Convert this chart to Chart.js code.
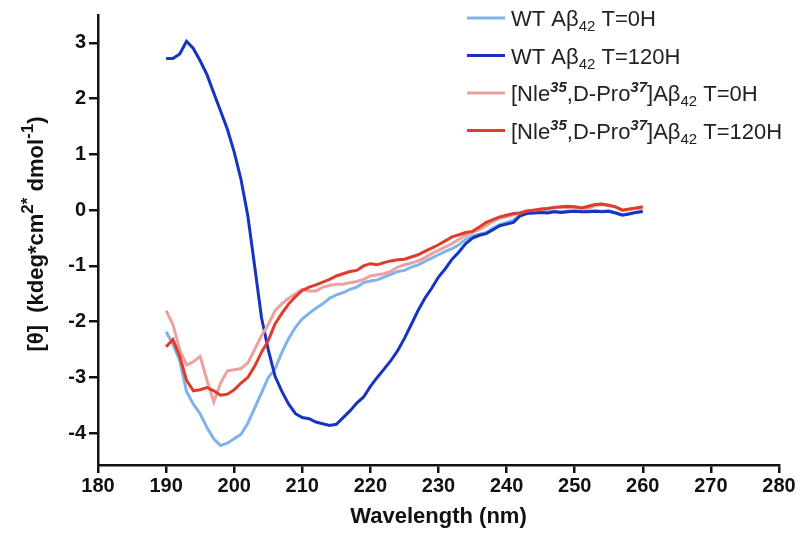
<!DOCTYPE html>
<html>
<head>
<meta charset="utf-8">
<script src="https://cdn.jsdelivr.net/npm/chart.js@4/dist/chart.umd.min.js"></script>
<style>
  html, body { margin: 0; padding: 0; background: #fff; }
  #wrap { width: 800px; height: 544px; position: relative; }
</style>
</head>
<body>
<div id="wrap"><canvas id="cd"></canvas></div>
<script>
// wavelength grid (nm)
const wavelength = [
  190, 191, 192, 193, 194, 195, 196, 197, 198, 199,
  200, 201, 202, 203, 204, 205, 206, 207, 208, 209,
  210, 211, 212, 213, 214, 215, 216, 217, 218, 219,
  220, 221, 222, 223, 224, 225, 226, 227, 228, 229,
  230, 231, 232, 233, 234, 235, 236, 237, 238, 239,
  240, 241, 242, 243, 244, 245, 246, 247, 248, 249,
  250, 251, 252, 253, 254, 255, 256, 257, 258, 259, 260
];

// WT Abeta42 T=0H
const wt0h = [
  -2.18, -2.40, -2.70, -3.25, -3.48, -3.65, -3.90, -4.10, -4.22, -4.18,
  -4.10, -4.02, -3.82, -3.55, -3.28, -3.00, -2.85, -2.55, -2.30, -2.10,
  -1.95, -1.85, -1.76, -1.68, -1.58, -1.52, -1.48, -1.42, -1.38, -1.30,
  -1.27, -1.25, -1.20, -1.15, -1.10, -1.08, -1.02, -0.98, -0.92, -0.86,
  -0.80, -0.74, -0.69, -0.62, -0.52, -0.46, -0.43, -0.40, -0.32, -0.26,
  -0.22, -0.18, -0.08, -0.04, -0.03, -0.02, -0.03, -0.02, -0.03, -0.02,
  -0.01, -0.02, -0.02, -0.01, -0.02, -0.01, -0.04, -0.08, -0.06, -0.04, -0.03
];

// WT Abeta42 T=120H
const wt120h = [
  2.72, 2.72, 2.80, 3.03, 2.90, 2.68, 2.43, 2.10, 1.78, 1.45,
  1.04, 0.55, -0.10, -1.00, -1.92, -2.50, -2.98, -3.25, -3.48, -3.65,
  -3.72, -3.74, -3.80, -3.83, -3.86, -3.84, -3.72, -3.60, -3.46, -3.35,
  -3.16, -3.00, -2.85, -2.70, -2.52, -2.30, -2.05, -1.80, -1.58, -1.40,
  -1.20, -1.05, -0.88, -0.75, -0.60, -0.50, -0.45, -0.42, -0.35, -0.28,
  -0.25, -0.22, -0.10, -0.06, -0.05, -0.04, -0.05, -0.03, -0.04, -0.03,
  -0.02, -0.03, -0.03, -0.02, -0.03, -0.02, -0.05, -0.09, -0.07, -0.04, -0.02
];

// [Nle35,D-Pro37]Abeta42 T=0H
const nle0h = [
  -1.80, -2.05, -2.50, -2.78, -2.72, -2.62, -3.05, -3.44, -3.10, -2.88,
  -2.86, -2.84, -2.74, -2.50, -2.25, -2.05, -1.80, -1.68, -1.58, -1.50,
  -1.42, -1.45, -1.45, -1.38, -1.35, -1.33, -1.33, -1.30, -1.28, -1.24,
  -1.18, -1.16, -1.14, -1.10, -1.02, -0.98, -0.95, -0.91, -0.85, -0.78,
  -0.72, -0.66, -0.60, -0.52, -0.45, -0.40, -0.35, -0.28, -0.20, -0.14,
  -0.12, -0.08, -0.05, 0.00, 0.00, 0.01, 0.03, 0.04, 0.05, 0.04,
  0.05, 0.04, 0.03, 0.08, 0.10, 0.08, 0.06, 0.00, 0.01, 0.03, 0.04
];

// [Nle35,D-Pro37]Abeta42 T=120H
const nle120h = [
  -2.45, -2.32, -2.62, -3.05, -3.24, -3.22, -3.18, -3.24, -3.32, -3.30,
  -3.22, -3.10, -3.00, -2.80, -2.55, -2.34, -2.04, -1.85, -1.68, -1.55,
  -1.44, -1.38, -1.34, -1.29, -1.24, -1.18, -1.14, -1.10, -1.08, -1.00,
  -0.96, -0.98, -0.94, -0.91, -0.89, -0.88, -0.84, -0.80, -0.74, -0.68,
  -0.62, -0.55, -0.48, -0.44, -0.40, -0.38, -0.30, -0.22, -0.17, -0.12,
  -0.09, -0.06, -0.05, -0.02, 0.00, 0.02, 0.03, 0.05, 0.06, 0.07,
  0.06, 0.04, 0.07, 0.10, 0.11, 0.09, 0.06, 0.00, 0.02, 0.04, 0.06
];

const xTicks = [180, 190, 200, 210, 220, 230, 240, 250, 260, 270, 280];
const yTicks = [-4, -3, -2, -1, 0, 1, 2, 3];

const colors = ['#7fb3ea', '#1634c2', '#eba29f', '#e03b2b'];
const seriesList = [wt0h, wt120h, nle0h, nle120h];

const FONT = '"Liberation Sans", Arial, sans-serif';

// legend labels as rich text runs: n = normal, sub = subscript, sup = bold italic superscript
const legendRuns = [
  [['n', 'WT A\u03b2'], ['sub', '42'], ['n', ' T=0H']],
  [['n', 'WT A\u03b2'], ['sub', '42'], ['n', ' T=120H']],
  [['n', '[Nle'], ['sup', '35'], ['n', ',D-Pro'], ['sup', '37'], ['n', ']A\u03b2'], ['sub', '42'], ['n', ' T=0H']],
  [['n', '[Nle'], ['sup', '35'], ['n', ',D-Pro'], ['sup', '37'], ['n', ']A\u03b2'], ['sub', '42'], ['n', ' T=120H']]
];

const yTitleRuns = [['n', '[\u03b8]  (kdeg*cm'], ['sup', '2*'], ['n', ' dmol'], ['sup', '-1'], ['n', ')']];
const xTitle = 'Wavelength (nm)';

function drawRuns(ctx, x, y, runs, styles) {
  let cx = x;
  runs.forEach(([kind, text]) => {
    const s = styles[kind];
    ctx.font = s.font;
    ctx.fillText(text, cx, y + s.dy);
    cx += ctx.measureText(text).width;
  });
  return cx - x;
}

function runsWidth(ctx, runs, styles) {
  let w = 0;
  runs.forEach(([kind, text]) => {
    ctx.font = styles[kind].font;
    w += ctx.measureText(text).width;
  });
  return w;
}

const overlay = {
  id: 'overlay',
  afterDraw(chart) {
    const ctx = chart.ctx;
    const area = chart.chartArea;
    ctx.save();
    ctx.fillStyle = '#111';
    ctx.textAlign = 'left';
    ctx.textBaseline = 'alphabetic';

    // x axis title
    ctx.font = 'bold 22px ' + FONT;
    ctx.textAlign = 'center';
    ctx.fillText(xTitle, (area.left + area.right) / 2, 523);
    ctx.textAlign = 'left';

    // y axis title, rotated
    const yStyles = {
      n: { font: 'bold 22px ' + FONT, dy: 0 },
      sup: { font: 'bold 17px ' + FONT, dy: -10 }
    };
    ctx.save();
    ctx.translate(43, 234);
    ctx.rotate(-Math.PI / 2);
    const w = runsWidth(ctx, yTitleRuns, yStyles);
    drawRuns(ctx, -w / 2, 0, yTitleRuns, yStyles);
    ctx.restore();

    // legend
    const lStyles = {
      n: { font: '22px ' + FONT, dy: 0 },
      sub: { font: '15px ' + FONT, dy: 5 },
      sup: { font: 'italic bold 15px ' + FONT, dy: -9 }
    };
    ctx.fillStyle = '#222';
    legendRuns.forEach((runs, i) => {
      const y = 18 + i * 37.5;
      ctx.strokeStyle = colors[i];
      ctx.lineWidth = 3;
      ctx.beginPath();
      ctx.moveTo(467, y);
      ctx.lineTo(505, y);
      ctx.stroke();
      drawRuns(ctx, 511, y + 8, runs, lStyles);
    });
    ctx.restore();
  }
};

const datasets = seriesList.map((vals, i) => ({
  data: wavelength.map((wl, k) => ({ x: wl, y: vals[k] })),
  borderColor: colors[i],
  borderWidth: 3,
  pointRadius: 0,
  tension: 0,
  fill: false,
  order: 4 - i
}));

new Chart(document.getElementById('cd'), {
  type: 'line',
  data: { datasets },
  options: {
    responsive: true,
    maintainAspectRatio: false,
    animation: false,
    layout: { padding: { left: 0, right: 21, top: 13, bottom: 0 } },
    plugins: {
      legend: { display: false },
      tooltip: { enabled: false }
    },
    scales: {
      x: {
        type: 'linear',
        min: 180,
        max: 280,
        afterFit(scale) { scale.height = 79; },
        afterBuildTicks(scale) { scale.ticks = xTicks.map(v => ({ value: v })); },
        border: { display: true, color: '#111', width: 2.5 },
        grid: { display: true, drawOnChartArea: false, drawTicks: true, tickLength: 8, color: '#111', lineWidth: 2.5 },
        ticks: { color: '#111', font: { family: FONT, size: 20, weight: 'bold' }, padding: 1, maxRotation: 0 }
      },
      y: {
        type: 'linear',
        min: -4.57,
        max: 3.5,
        afterFit(scale) { scale.width = 98; },
        afterBuildTicks(scale) { scale.ticks = yTicks.map(v => ({ value: v })); },
        border: { display: true, color: '#111', width: 2.5 },
        grid: { display: true, drawOnChartArea: false, drawTicks: true, tickLength: 9, color: '#111', lineWidth: 2.5 },
        ticks: { color: '#111', font: { family: FONT, size: 20, weight: 'bold' }, padding: 3 }
      }
    }
  },
  plugins: [overlay]
});
</script>
</body>
</html>
